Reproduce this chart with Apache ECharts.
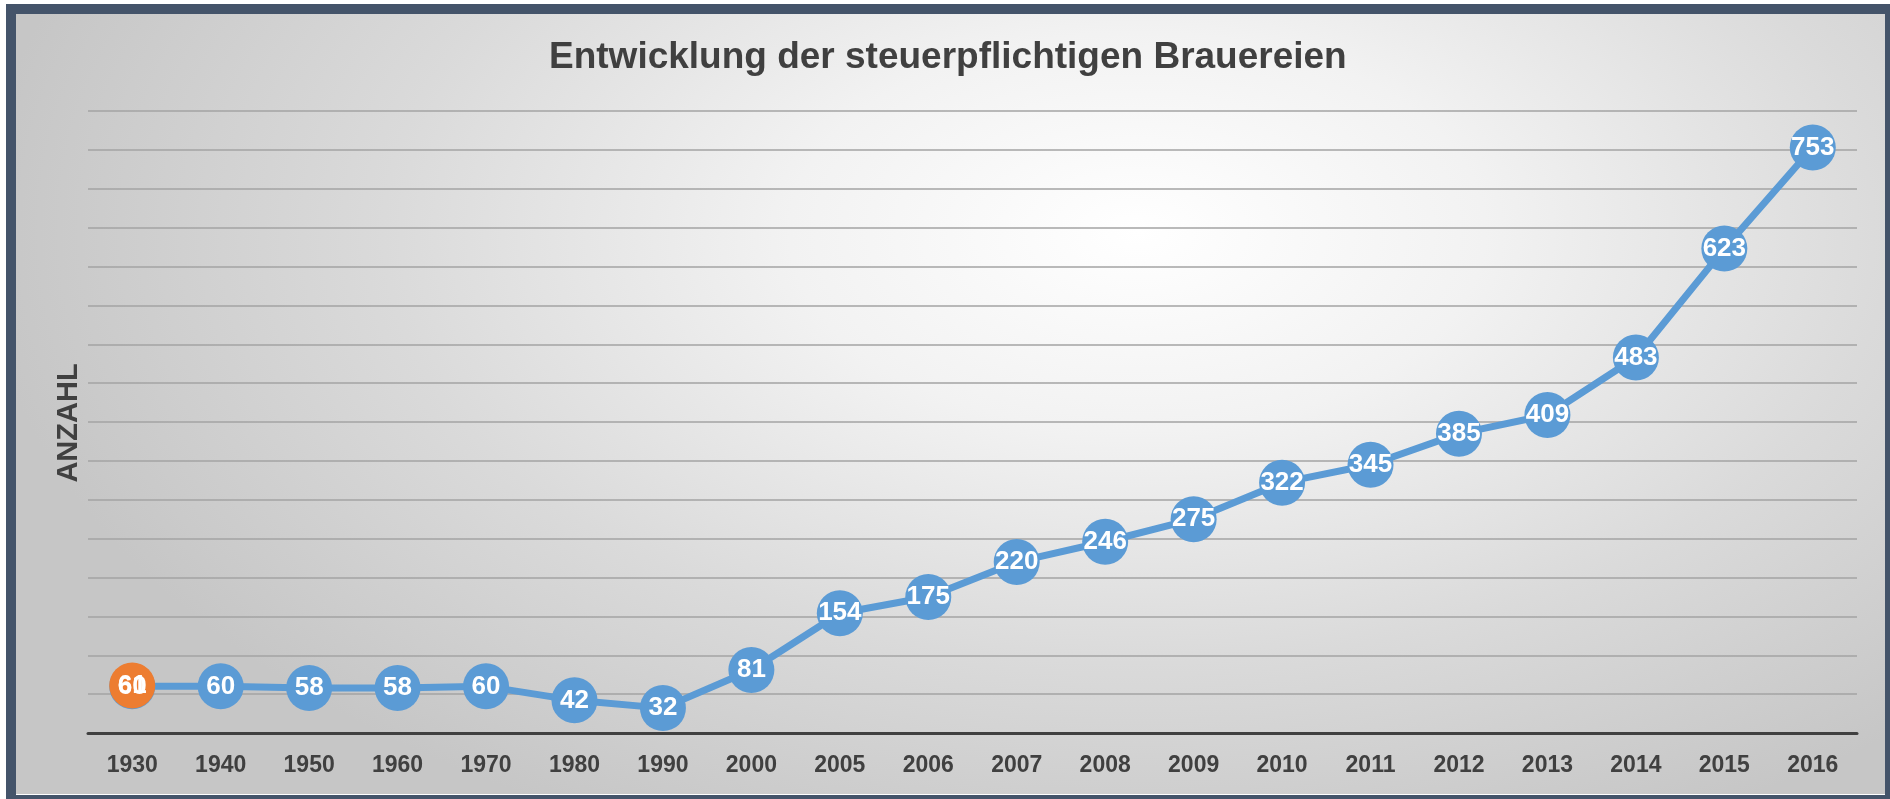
<!DOCTYPE html>
<html>
<head>
<meta charset="utf-8">
<script src="https://cdn.jsdelivr.net/npm/echarts@6/dist/echarts.min.js"></script>
<style>
html,body{margin:0;padding:0;width:1890px;height:799px;overflow:hidden;background:#fff;}
#bg{position:absolute;left:16px;top:13px;width:1869px;height:781px;
 background:radial-gradient(ellipse 62% 85% at 60% 28%, #ffffff 0%, #f2f2f2 30%, #dadada 65%, #c6c6c6 100%);}
#frame{position:absolute;left:6px;top:4px;width:1869px;height:781px;border:10px solid #44546a;pointer-events:none;z-index:5;}
#chart{position:absolute;left:0;top:0;width:1890px;height:799px;z-index:2;}
</style>
</head>
<body>
<div id="bg"></div>
<div id="chart"></div>
<div id="frame"></div>
<script>
const titleText = 'Entwicklung der steuerpflichtigen Brauereien';
const yAxisName = 'ANZAHL';
const years = ['1930','1940','1950','1960','1970','1980','1990','2000','2005','2006','2007','2008','2009','2010','2011','2012','2013','2014','2015','2016'];
const breweries = [60,60,58,58,60,42,32,81,154,175,220,246,275,322,345,385,409,483,623,753];
const highlight = [61,'-','-','-','-','-','-','-','-','-','-','-','-','-','-','-','-','-','-','-'];
const firstLabel = [60,'-','-','-','-','-','-','-','-','-','-','-','-','-','-','-','-','-','-','-'];

const FONT = 'Liberation Sans, Arial, sans-serif';
const chart = echarts.init(document.getElementById('chart'), null, {renderer:'canvas'});
const labelStyle = {show:true, position:'inside', color:'#ffffff', fontWeight:'bold', fontSize:26, fontFamily:FONT};

chart.setOption({
  animation:false,
  backgroundColor:'transparent',
  title:{text:titleText, left:549, top:39, padding:0,
    textStyle:{fontSize:37, fontWeight:'bold', color:'#404040', fontFamily:FONT}},
  grid:{left:88, right:33, top:111, bottom:66},
  xAxis:{type:'category', data:years, boundaryGap:true,
    axisLine:{lineStyle:{color:'#404040', width:3}},
    axisTick:{show:false},
    axisLabel:{color:'#404040', fontSize:23, fontWeight:'bold', fontFamily:FONT, margin:21}},
  yAxis:{type:'value', min:0, max:800, interval:50,
    axisLabel:{show:false}, axisLine:{show:false}, axisTick:{show:false},
    splitLine:{lineStyle:{color:'#a3a3a3', width:1.5}}},
  graphic:[{type:'text', x:69, y:423, rotation:Math.PI/2,
    style:{text:yAxisName, fontSize:29, fontWeight:'bold', fill:'#404040', fontFamily:FONT,
      align:'center', verticalAlign:'middle'}}],
  series:[
    {type:'line', data:breweries.map((v,i)=> i===0 ? {value:v, label:{show:false}} : v),
     z:2, symbol:'circle', symbolSize:46,
     lineStyle:{color:'#5b9bd5', width:7}, itemStyle:{color:'#5b9bd5'},
     label:labelStyle},
    {type:'line', data:highlight, z:3, symbol:'circle', symbolSize:46,
     lineStyle:{width:0}, itemStyle:{color:'#ed7d31'}, label:labelStyle},
    {type:'line', data:firstLabel, z:4, symbol:'circle', symbolSize:46,
     lineStyle:{width:0}, itemStyle:{color:'rgba(0,0,0,0)'}, label:labelStyle}
  ]
});
</script>
</body>
</html>
